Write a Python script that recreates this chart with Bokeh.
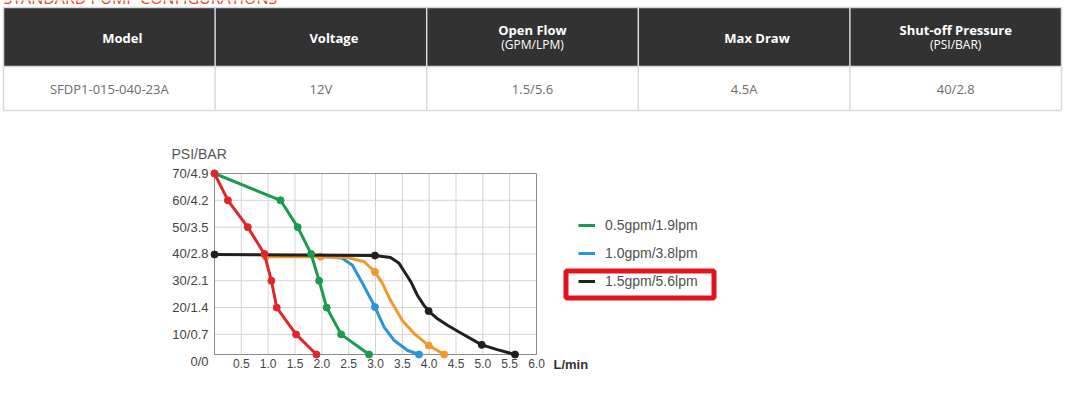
from bokeh.plotting import figure
from bokeh.models import (Range1d, FixedTicker, Legend, LegendItem, Label,
                          BoxAnnotation, NumeralTickFormatter)
from bokeh.embed import file_html
from bokeh.resources import INLINE
from bokeh.core.properties import value

# ---------------- table data ----------------
page_title = "STANDARD PUMP CONFIGURATIONS"
headers = ["Model", "Voltage", "Open Flow", "Max Draw", "Shut-off Pressure"]
header_units = ["", "", "(GPM/LPM)", "", "(PSI/BAR)"]
row_values = ["SFDP1-015-040-23A", "12V", "1.5/5.6", "4.5A", "40/2.8"]

# ---------------- chart data (x: L/min, y: PSI) ----------------
flow_ticks = [0.5, 1.0, 1.5, 2.0, 2.5, 3.0, 3.5, 4.0, 4.5, 5.0, 5.5, 6.0]
psi_ticks = [0, 10, 20, 30, 40, 50, 60, 70]
bar_ticks = ["0", "0.7", "1.4", "2.1", "2.8", "3.5", "4.2", "4.9"]
psi_axis_min = 2.5   # the drawn flow axis sits slightly above 0 psi

red_x = [0, 0.25, 0.62, 0.93, 1.06, 1.16, 1.52, 1.90]
red_y = [70, 60, 50, 40, 30, 20, 10, 2.5]

green_x = [0, 1.23, 1.55, 1.80, 1.95, 2.09, 2.36, 2.88]
green_y = [70, 60, 50, 40, 30, 20, 10, 2.5]

orange_x = [0.95, 1.98, 2.48, 2.79, 2.99, 3.13, 3.28, 3.50, 3.72, 3.99, 4.28]
orange_y = [39.0, 39.0, 38.7, 37.1, 33.3, 29.0, 22.7, 15.2, 10.3, 5.9, 2.5]
orange_dot_x = [0.95, 1.98, 2.99, 3.99, 4.28]
orange_dot_y = [39.0, 39.0, 33.3, 5.9, 2.5]

blue_x = [1.98, 2.20, 2.38, 2.57, 2.76, 2.99, 3.16, 3.35, 3.60, 3.81]
blue_y = [39.0, 38.9, 38.4, 35.8, 29.0, 20.2, 12.7, 7.7, 4.0, 2.5]
blue_dot_x = [2.99, 3.81]
blue_dot_y = [20.2, 2.5]

black_x = [0, 2.99, 3.28, 3.44, 3.56, 3.66, 3.78, 3.90, 3.99, 4.15, 4.34, 4.59, 4.98, 5.27, 5.60]
black_y = [39.8, 39.4, 38.7, 36.5, 32.7, 29.6, 24.6, 20.9, 18.7, 15.9, 13.4, 10.5, 6.1, 4.3, 2.5]
black_dot_x = [0, 2.99, 3.99, 4.98, 5.60]
black_dot_y = [39.8, 39.4, 18.7, 6.1, 2.5]

legend_labels = ["0.5gpm/1.9lpm", "1.0gpm/3.8lpm", "1.5gpm/5.6lpm"]

# ---------------- table figure (page-pixel coordinates) ----------------
W = 1070
tbl_h = 112
tf = figure(width=W, height=tbl_h, x_range=Range1d(0, W), y_range=Range1d(tbl_h, 0),
            toolbar_location=None, output_backend="svg", min_border=0,
            outline_line_color=None)
tf.axis.visible = False
tf.grid.visible = False

n = len(headers)
t_left, t_right = 3, 1061
col_w = (t_right - t_left) / n
edges = [t_left + i * col_w for i in range(n + 1)]
centers = [(edges[i] + edges[i + 1]) / 2 for i in range(n)]
head_top, head_bot, body_bot = 7, 66, 110

# page heading, scrolled almost out of view as in the original
tf.text(x=[3], y=[-2.5], text=[page_title], text_align="left", text_baseline="alphabetic",
        text_font=value("Open Sans"), text_font_size="16px", text_color="#e8472c")
tf.quad(left=[edges[0]], right=[edges[-1]], top=[head_top], bottom=[head_bot],
        fill_color="#323232", line_color=None)
tf.segment(x0=edges, y0=[head_top] * (n + 1), x1=edges, y1=[body_bot] * (n + 1),
           line_color="#d9d9d9", line_width=1.5)
tf.segment(x0=[edges[0]] * 3, y0=[head_top, head_bot, body_bot], x1=[edges[-1]] * 3,
           y1=[head_top, head_bot, body_bot], line_color="#d9d9d9", line_width=1.5)

single = [i for i in range(n) if not header_units[i]]
double = [i for i in range(n) if header_units[i]]
tf.text(x=[centers[i] for i in single], y=[37] * len(single), text=[headers[i] for i in single],
        x_offset=13, text_align="center", text_baseline="middle", text_font=value("Open Sans"),
        text_font_style="bold", text_font_size="13px", text_color="white")
tf.text(x=[centers[i] for i in double], y=[29] * len(double), text=[headers[i] for i in double],
        text_align="center", text_baseline="middle", text_font=value("Open Sans"),
        text_font_style="bold", text_font_size="13px", text_color="white")
tf.text(x=[centers[i] for i in double], y=[44] * len(double), text=[header_units[i] for i in double],
        text_align="center", text_baseline="middle", text_font=value("Open Sans"),
        text_font_size="12px", text_color="white")
tf.text(x=centers, y=[88] * n, text=row_values, text_align="center", text_baseline="middle",
        text_font=value("Open Sans"), text_font_size="13px", text_color="#6b6b6b")

# ---------------- chart figure ----------------
CANVAS_TOP, CH_H = 112, 293
PX_L, PX_R, PX_T, PX_B = 214, 536, 173, 354       # plot box on the page
X_MIN, X_MAX = 0.0, flow_ticks[-1]
Y_MIN, Y_MAX = psi_axis_min, psi_ticks[-1]
sx = (PX_R - PX_L) / (X_MAX - X_MIN)
sy = (PX_B - PX_T) / (Y_MAX - Y_MIN)


def px2x(px):
    return X_MIN + (px - PX_L) / sx


def py2y(py):
    return Y_MIN + (PX_B - py) / sy


p = figure(width=W, height=CH_H,
           x_range=Range1d(px2x(0), px2x(W)),
           y_range=Range1d(py2y(CANVAS_TOP + CH_H), py2y(CANVAS_TOP)),
           toolbar_location=None, output_backend="svg", min_border=0,
           outline_line_color=None)
p.grid.visible = False
FONT = "Liberation Sans"
GRID = "#d3d3d3"
BORDER = "#8c8c8c"

p.xaxis.fixed_location = Y_MIN
p.xaxis.bounds = (X_MIN, X_MAX)
p.xaxis.ticker = FixedTicker(ticks=flow_ticks)
p.xaxis.formatter = NumeralTickFormatter(format="0.0")
p.yaxis.fixed_location = X_MIN
p.yaxis.bounds = (psi_ticks[0], Y_MAX)
p.yaxis.ticker = FixedTicker(ticks=psi_ticks)
p.yaxis.major_label_overrides = {t: f"{t}/{b}" for t, b in zip(psi_ticks, bar_ticks)}
for ax in (p.xaxis, p.yaxis):
    ax.axis_line_color = None
    ax.major_tick_in = 0
    ax.major_tick_out = 0
    ax.minor_tick_line_color = None
    ax.major_label_text_font = FONT
    ax.major_label_text_color = "#444444"
p.xaxis.major_label_text_font_size = "12px"
p.yaxis.major_label_text_font_size = "13px"
p.xaxis.major_label_standoff = 4
p.yaxis.major_label_standoff = 6

# grid lines limited to the plot box
grid_psi = [t for t in psi_ticks if Y_MIN < t < Y_MAX]
grid_flow = [t for t in flow_ticks if X_MIN < t < X_MAX]
p.segment(x0=grid_flow, y0=[Y_MIN] * len(grid_flow), x1=grid_flow, y1=[Y_MAX] * len(grid_flow),
          line_color=GRID, line_width=1)
p.segment(x0=[X_MIN] * len(grid_psi), y0=grid_psi, x1=[X_MAX] * len(grid_psi), y1=grid_psi,
          line_color=GRID, line_width=1)
p.quad(left=[X_MIN], right=[X_MAX], bottom=[Y_MIN], top=[Y_MAX], fill_color=None,
       line_color=BORDER, line_width=1)

series = [
    ("#2a95d6", blue_x, blue_y, blue_dot_x, blue_dot_y),
    ("#f09a2c", orange_x, orange_y, orange_dot_x, orange_dot_y),
    ("#231f20", black_x, black_y, black_dot_x, black_dot_y),
    ("#1b9b4f", green_x, green_y, green_x, green_y),
    ("#e0262d", red_x, red_y, red_x, red_y),
]
lines = {}
for color, xs, ys, dx, dy in series:
    lines[color] = p.line(xs, ys, line_color=color, line_width=3)
    p.scatter(dx, dy, size=7, fill_color=color, line_color=color)

legend = Legend(items=[
    LegendItem(label=legend_labels[0], renderers=[lines["#1b9b4f"]]),
    LegendItem(label=legend_labels[1], renderers=[lines["#2a95d6"]]),
    LegendItem(label=legend_labels[2], renderers=[lines["#231f20"]]),
], location=(578, CANVAS_TOP + CH_H - 290), glyph_width=17, glyph_height=18, label_height=18,
    spacing=10, padding=0, margin=0, border_line_color=None, background_fill_alpha=0,
    label_text_font=FONT, label_text_font_size="14px", label_text_color="#505050",
    label_standoff=10)
p.add_layout(legend)

# red highlight box round the last legend entry
p.add_layout(BoxAnnotation(left=px2x(565.5), right=px2x(713.5), top=py2y(270.5),
                           bottom=py2y(297.5), fill_alpha=0, line_color="#e3141b",
                           line_alpha=1.0, line_width=5))

p.add_layout(Label(x=X_MIN, y=Y_MAX, text="PSI/BAR", x_offset=-43, y_offset=20,
                   text_baseline="middle", text_font=FONT, text_font_size="14px",
                   text_color="#555555"))
p.add_layout(Label(x=X_MAX, y=Y_MIN, text="L/min", x_offset=17, y_offset=-10,
                   text_baseline="middle", text_font=FONT, text_font_size="13px",
                   text_font_style="bold", text_color="#333333"))

open("out.html", "w").write(file_html([tf, p], INLINE))
